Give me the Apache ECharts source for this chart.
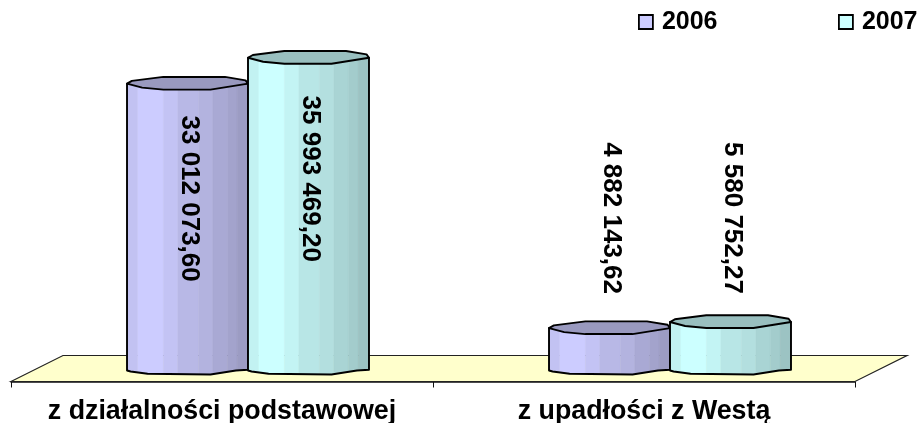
<!DOCTYPE html>
<html><head><meta charset="utf-8">
<style>html,body{margin:0;padding:0;background:#fff}#c{width:918px;height:423px}</style>
<script src="https://cdn.jsdelivr.net/npm/echarts@6/dist/echarts.min.js"></script>
</head><body><div id="c"></div>
<script>
const categories = ['z działalności podstawowej', 'z upadłości z Westą'];
const seriesNames = ['2006', '2007'];
const values2006 = [33012073.60, 4882143.62];
const values2007 = [35993469.20, 5580752.27];
const labels2006 = ['33 012 073,60', '4 882 143,62'];
const labels2007 = ['35 993 469,20', '5 580 752,27'];

const FONT = '"Liberation Sans", Arial, sans-serif';
const DEPTH_X = 26, DEPTH_Y = 11, FLOOR_DX = 52, FLOOR_DY = 26, BAR_FRAC = 0.2867;
const STRIPS = [
  [0, .09, 0.95], [.09, .30, 1], [.30, .42, 0.955], [.42, .59, 0.90],
  [.59, .71, 0.875], [.71, .83, 0.83], [.83, .91, 0.80], [.91, 1, 0.765]
];
const FRONT = [[0,0],[.125,4],[.30,6],[.69,6],[1,0]];
const BACK = [[0,0],[.04,-2.7],[.30,-6.7],[.81,-6.7],[.98,-3.3],[1,0]];
const BASE = [[0,0],[.03,1],[.17,3.3],[.69,4],[.90,0],[1,-.7]];
const LABEL_DY = { '2006': [115, -110], '2007': [121, -104] };

function curveAt(c, t) {
  for (let i = 1; i < c.length; i++) {
    if (t <= c[i][0]) {
      const k = (t - c[i-1][0]) / (c[i][0] - c[i-1][0]);
      return c[i-1][1] + k * (c[i][1] - c[i-1][1]);
    }
  }
  return c[c.length-1][1];
}
function shade(rgb, f) { return 'rgb(' + rgb.map(v => Math.round(v * f)).join(',') + ')'; }

function barSeries(name, values, labels, rgb, side) {
  return {
    name, type: 'custom', coordinateSystem: 'cartesian2d', clip: false, z: 3,
    itemStyle: { color: shade(rgb, 1) },
    data: values.map((v, i) => [i, v, labels[i]]),
    renderItem(params, api) {
      const cat = api.value(0), val = api.value(1);
      const top = api.coord([cat, val]), zero = api.coord([cat, 0]);
      const w = api.size([1, 0])[0] * BAR_FRAC;
      const cx = zero[0] + DEPTH_X;
      const left = side < 0 ? cx - w : cx;
      const topY = top[1] - DEPTH_Y, baseY = zero[1] - DEPTH_Y;
      const pt = (t, y) => [left + t * w, y];
      const children = [];
      const knots = c => c.map(p => p[0]);
      STRIPS.forEach(s => {
        const ts = [...new Set([s[0], s[1], ...knots(FRONT), ...knots(BASE)])].filter(t => t >= s[0] && t <= s[1]).sort((a, b) => a - b);
        const upper = ts.map(t => pt(t, topY + curveAt(FRONT, t)));
        const lower = ts.slice().reverse().map(t => pt(t, baseY + curveAt(BASE, t)));
        children.push({ type: 'polygon', shape: { points: upper.concat(lower) }, style: { fill: shade(rgb, s[2]), stroke: shade(rgb, s[2]), lineWidth: 0.5 } });
      });
      const outline = [pt(0, topY), pt(1, topY)].concat(BASE.slice().reverse().map(p => pt(p[0], baseY + p[1])));
      children.push({ type: 'polygon', shape: { points: outline }, style: { fill: 'none', stroke: '#000', lineWidth: 1.9, lineJoin: 'round' } });
      const cap = FRONT.map(p => pt(p[0], topY + p[1])).concat(BACK.slice().reverse().map(p => pt(p[0], topY + p[1])));
      children.push({ type: 'polygon', shape: { points: cap }, style: { fill: shade(rgb, 0.75), stroke: '#000', lineWidth: 1.9, lineJoin: 'round' } });
      children.push({
        type: 'text', x: left + w / 2 + 1.5, y: topY + LABEL_DY[name][cat], rotation: -Math.PI / 2,
        style: { text: api.value(2), fill: '#000', font: 'bold 26px ' + FONT, align: 'center', verticalAlign: 'middle' }
      });
      return { type: 'group', children };
    }
  };
}

const floorSeries = {
  name: 'floor', type: 'custom', coordinateSystem: 'cartesian2d', clip: false, z: 1, silent: true,
  data: [[0, 0]],
  renderItem(params) {
    const g = params.coordSys, b = g.y + g.height, r = g.x + g.width;
    return {
      type: 'polygon',
      shape: { points: [[g.x, b], [g.x + FLOOR_DX, b - FLOOR_DY], [r + FLOOR_DX, b - FLOOR_DY], [r, b]] },
      style: { fill: '#ffffcc', stroke: '#222', lineWidth: 1.2 }
    };
  }
};

function legendFor(name, left) {
  return {
    data: [name], left, top: 9.5, padding: 0, itemWidth: 14, itemHeight: 14, icon: 'rect',
    itemStyle: { borderColor: '#000', borderWidth: 1.8 },
    textStyle: { fontFamily: FONT, fontWeight: 'bold', fontSize: 25, color: '#000', padding: [0, 0, 0, 4] }
  };
}

const chart = echarts.init(document.getElementById('c'), null, { renderer: 'canvas' });
chart.setOption({
  animation: false,
  backgroundColor: '#fff',
  grid: { left: 11, top: 33.9, width: 844, height: 347.6, containLabel: false, outerBoundsMode: 'none' },
  legend: [legendFor(seriesNames[0], 638), legendFor(seriesNames[1], 838)],
  xAxis: {
    type: 'category', data: categories, boundaryGap: true,
    axisLine: { lineStyle: { color: '#111', width: 1.5 } },
    axisTick: { show: true, length: 6, alignWithLabel: false, lineStyle: { color: '#111', width: 1 } },
    axisLabel: { interval: 0, hideOverlap: false, fontFamily: FONT, fontWeight: 'bold', fontSize: 26.8, color: '#000', margin: 17 }
  },
  yAxis: { type: 'value', min: 0, max: 40000000, show: false, splitLine: { show: false } },
  series: [
    floorSeries,
    barSeries('2006', values2006, labels2006, [204, 204, 255], -1),
    barSeries('2007', values2007, labels2007, [204, 255, 255], 1)
  ]
});
</script></body></html>
